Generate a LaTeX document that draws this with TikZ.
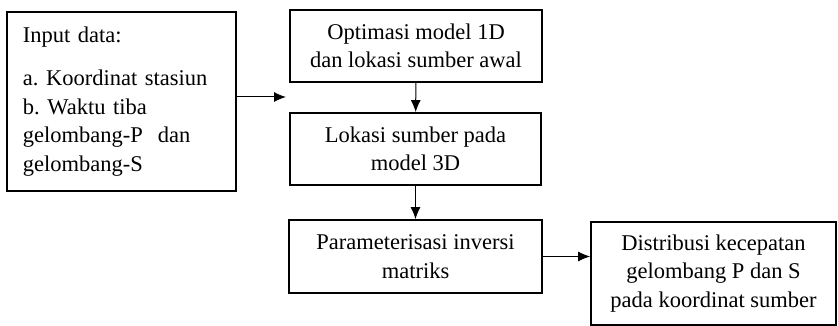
\documentclass[tikz,border=0pt]{standalone}
\usepackage{fontspec}
\setmainfont{Liberation Serif}
\usetikzlibrary{arrows.meta}
\frenchspacing
\begin{document}
\begin{tikzpicture}[x=1pt,y=-1pt,
  box/.style={draw,line width=1.8pt,align=center,inner sep=0pt,font=\fontsize{22.5}{28.5}\selectfont\frenchspacing},
  conn/.style={line width=1pt,-{Latex[length=12pt,width=10pt]}}]
\useasboundingbox (0,0) rectangle (838,326);
\node[box,minimum width=229pt,minimum height=179pt,text width=197pt,align=left] (in) at (121.5,101.5)
  {Input data:\\[15pt]a. Koordinat stasiun\\b. Waktu tiba\\gelombang-P\ \ dan\\gelombang-S};
\node[box,minimum width=252pt,minimum height=72pt] (opt) at (416,46) {Optimasi model 1D\\dan lokasi sumber awal};
\node[box,minimum width=251pt,minimum height=72pt] (lok) at (415.5,149) {Lokasi sumber pada\\model 3D};
\node[box,minimum width=253pt,minimum height=73pt] (par) at (415.5,256.5) {Parameterisasi inversi\\matriks};
\node[box,minimum width=245pt,minimum height=103pt] (dis) at (713.5,273.5) {Distribusi kecepatan\\gelombang P dan S\\pada koordinat sumber};
\coordinate (t1) at (286,97);
\draw[conn] (in.east |- t1) -- (t1);
\draw[conn] (opt) -- (lok);
\draw[conn] (lok) -- (par);
\draw[conn] (par.east |- 0,256.5) -- (dis.west |- 0,256.5);
\end{tikzpicture}
\end{document}
